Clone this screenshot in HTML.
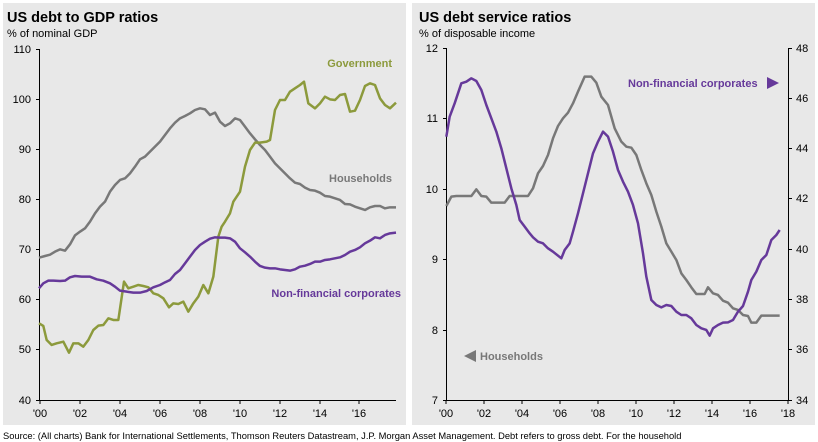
<!DOCTYPE html><html><head><style>body{margin:0;background:#fff;width:818px;height:442px;overflow:hidden}svg{display:block}</style></head><body>
<svg width="818" height="442" font-family="Liberation Sans, sans-serif">
<rect x="3" y="3" width="403" height="422" fill="#e8e8e8"/>
<rect x="412" y="3" width="403" height="422" fill="#e8e8e8"/>
<text x="7" y="22" font-size="14.5" font-weight="bold">US debt to GDP ratios</text>
<text x="7" y="37" font-size="11">% of nominal GDP</text>
<text x="419" y="22" font-size="14.5" font-weight="bold">US debt service ratios</text>
<text x="419" y="37" font-size="11">% of disposable income</text>
<text x="3" y="439" font-size="9.35">Source: (All charts) Bank for International Settlements, Thomson Reuters Datastream, J.P. Morgan Asset Management. Debt refers to gross debt. For the household</text>
<g stroke="#000" stroke-width="1" fill="none">
<path d="M39.5 49V400.5H396"/>
<path d="M36 49.5h4M36 99.5h4M36 149.5h4M36 199.5h4M36 249.5h4M36 299.5h4M36 349.5h4M36 400.5h4"/>
<path d="M40 400v4M80 400v4M120 400v4M160 400v4M200 400v4M240 400v4M280 400v4M320 400v4M359 400v4"/>
<path d="M446.5 48V400.5H788.5V48"/>
<path d="M443 48.5h4M443 118.5h4M443 189.5h4M443 259.5h4M443 330.5h4M443 400.5h4"/>
<path d="M788 48.5h4M788 98.5h4M788 148.5h4M788 198.5h4M788 249.5h4M788 299.5h4M788 349.5h4M788 400.5h4"/>
<path d="M446 400v4M484 400v4M522 400v4M560 400v4M598 400v4M636 400v4M674 400v4M712 400v4M750 400v4M788 400v4"/>
</g>
<g font-size="11" text-anchor="end">
<text x="31" y="53">110</text><text x="31" y="103">100</text><text x="31" y="153">90</text><text x="31" y="203">80</text><text x="31" y="253">70</text><text x="31" y="303">60</text><text x="31" y="353">50</text><text x="31" y="404">40</text>
<text x="438" y="52">12</text><text x="438" y="122">11</text><text x="438" y="193">10</text><text x="438" y="263">9</text><text x="438" y="334">8</text><text x="438" y="404">7</text>
</g>
<g font-size="11">
<text x="796" y="52">48</text><text x="796" y="102">46</text><text x="796" y="152">44</text><text x="796" y="202">42</text><text x="796" y="253">40</text><text x="796" y="303">38</text><text x="796" y="353">36</text><text x="796" y="404">34</text>
</g>
<g font-size="11" text-anchor="middle">
<text x="40" y="417">'00</text><text x="80" y="417">'02</text><text x="120" y="417">'04</text><text x="160" y="417">'06</text><text x="200" y="417">'08</text><text x="240" y="417">'10</text><text x="280" y="417">'12</text><text x="320" y="417">'14</text><text x="359" y="417">'16</text>
<text x="446" y="417">'00</text><text x="484" y="417">'02</text><text x="522" y="417">'04</text><text x="560" y="417">'06</text><text x="598" y="417">'08</text><text x="636" y="417">'10</text><text x="674" y="417">'12</text><text x="712" y="417">'14</text><text x="750" y="417">'16</text><text x="788" y="417">'18</text>
</g>
<g fill="none" stroke-width="2.5" stroke-linejoin="round">
<g transform="scale(0.33333)">
<polyline vector-effect="non-scaling-stroke" stroke="#787878" points="117,773 135,768 150,764 165,755 180,748 195,752 210,733 225,706 240,695 255,685 270,665 285,640 300,620 315,605 330,575 345,555 360,540 375,535 390,520 405,500 420,478 435,470 450,455 465,440 480,425 495,405 510,385 525,368 540,355 555,348 570,340 585,330 600,325 615,328 630,345 645,338 660,365 675,378 690,370 705,355 720,360 735,380 750,400 765,418 780,435 795,450 810,470 825,490 840,505 855,520 870,535 885,548 900,552 915,563 930,570 945,572 960,578 975,588 990,590 1005,595 1020,600 1035,612 1050,613 1065,620 1080,625 1095,630 1110,622 1125,618 1140,618 1155,625 1170,622 1188,622"/>
<polyline vector-effect="non-scaling-stroke" stroke="#8c9a3c" points="117,970 130,978 140,1020 155,1035 170,1030 190,1025 207,1058 220,1030 235,1030 250,1040 265,1020 280,990 295,977 310,975 325,955 340,960 355,960 372,845 385,865 400,860 415,855 430,858 445,862 460,880 475,885 490,895 507,922 520,910 535,912 550,905 565,935 580,910 595,890 610,855 625,880 640,830 655,710 665,680 675,665 690,640 700,605 710,590 720,575 735,500 750,450 765,428 780,428 800,425 810,420 825,330 840,300 855,300 870,275 885,265 900,255 912,245 925,310 945,325 960,310 975,290 990,298 1005,300 1020,285 1035,282 1050,335 1065,332 1080,300 1095,258 1110,250 1125,255 1140,295 1155,315 1170,325 1188,308"/>
<polyline vector-effect="non-scaling-stroke" stroke="#66399a" points="117,865 130,850 145,842 160,842 180,843 195,842 210,832 225,828 245,830 270,830 290,838 310,842 330,850 345,860 360,872 380,875 400,878 420,878 440,873 460,862 480,855 495,847 510,840 525,822 540,810 555,790 570,770 585,750 600,735 615,725 630,716 645,712 660,713 675,713 690,715 705,725 720,745 735,757 750,770 765,785 780,798 795,803 810,805 825,805 840,808 855,810 870,812 885,808 900,800 915,797 930,792 945,785 960,785 975,780 990,778 1005,775 1020,772 1035,765 1050,755 1065,750 1080,742 1095,730 1110,722 1125,712 1140,715 1155,705 1170,700 1188,698"/>
</g>
<g transform="translate(408,0) scale(0.33333)">
<polyline vector-effect="non-scaling-stroke" stroke="#787878" points="115,618 130,590 145,588 190,588 205,568 220,588 235,590 250,608 290,608 305,588 360,588 375,565 390,520 405,498 420,465 435,415 450,378 465,355 480,338 495,310 510,275 530,230 550,230 565,248 580,290 600,315 620,385 640,425 655,440 670,443 685,465 700,510 715,550 730,585 745,635 760,680 775,730 790,755 805,780 820,820 835,840 850,862 865,882 890,882 900,862 915,880 930,885 945,902 960,908 975,925 990,930 1005,945 1020,948 1030,968 1045,968 1060,947 1115,947"/>
<polyline vector-effect="non-scaling-stroke" stroke="#66399a" points="115,410 125,350 140,310 160,250 175,245 190,235 205,243 220,270 235,315 250,355 265,395 280,445 295,505 310,565 325,615 335,660 350,680 365,700 375,712 390,725 405,730 420,745 435,755 460,775 470,750 485,730 495,695 510,640 525,580 540,520 555,460 570,425 585,395 600,410 615,455 630,510 645,545 660,575 675,615 690,670 705,760 715,830 730,900 745,915 760,922 775,915 790,918 805,935 820,945 835,945 850,955 865,975 880,985 895,990 905,1007 915,985 930,975 945,968 960,967 975,960 990,935 1005,918 1020,875 1030,840 1045,815 1060,780 1075,765 1090,720 1105,705 1115,690"/>
</g>
</g>
<g font-size="11" font-weight="bold">
<text x="392" y="67" text-anchor="end" fill="#8c9a3c">Government</text>
<text x="392" y="182" text-anchor="end" fill="#787878">Households</text>
<text x="401" y="297" text-anchor="end" fill="#66399a">Non-financial corporates</text>
<text x="628" y="87" fill="#66399a">Non-financial corporates</text>
<text x="480" y="360" fill="#787878">Households</text>
</g>
<polygon points="767,77 779,83 767,89" fill="#66399a"/>
<polygon points="476,350 464,356 476,362" fill="#787878"/>
</svg>
</body></html>
